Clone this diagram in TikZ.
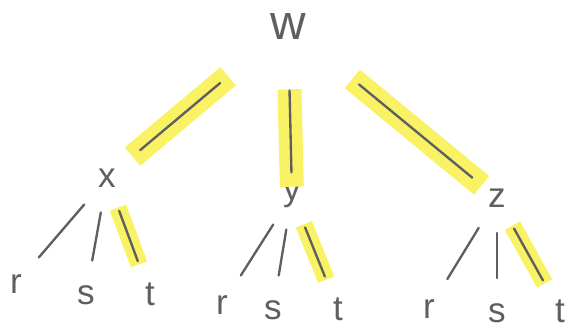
\documentclass[tikz,border=0pt]{standalone}
\usepackage{fontspec}
\setmainfont{Liberation Sans}
\usetikzlibrary{positioning}
\definecolor{pencil}{RGB}{95,95,95}
\definecolor{hiyellow}{RGB}{248,242,100}

\begin{document}
\begin{tikzpicture}[
    x=0.03cm, y=-0.03cm,
    letter/.style={text=pencil, font=\fontsize{30}{30}\selectfont, inner sep=0pt},
    rootletter/.style={letter, font=\fontsize{42}{42}\selectfont},
    branch/.style={draw=pencil, line width=2pt, line cap=round},
    leafbranch/.style={branch, shorten <=1.05cm, shorten >=1.05cm},
    hilite/.style={draw=hiyellow, line width=0.72cm},
    leafhilite/.style={draw=hiyellow, line width=0.52cm, xshift=0.12cm,
        shorten <=0.95cm, shorten >=0.95cm}
]
    \useasboundingbox (0,0) rectangle (583,331);

    \node[rootletter] (w) at (288,26) {w};

    \node[letter] (x) at (107,178) {x};
    \node[letter] (y) at (292,195) {y};
    \node[letter] (z) at (497,198) {z};

    \node[letter] (xr) at (16,284) {r};
    \node[letter] (xs) at (86,295) {s};
    \node[letter] (xt) at (150,294) {t};

    \node[letter] (yr) at (222,305) {r};
    \node[letter] (ys) at (273,310) {s};
    \node[letter] (yt) at (338,309) {t};

    \node[letter] (zr) at (429,309) {r};
    \node[letter] (zs) at (497,313) {s};
    \node[letter] (zt) at (560,311) {t};

    \draw[hilite, shorten <=2.35cm, shorten >=1.0cm] (w.center) -- (x.center);
    \draw[hilite, shorten <=1.9cm, shorten >=0.25cm] (w.center) -- (y.center);
    \draw[hilite, shorten <=2.5cm, shorten >=0.6cm] (w.center) -- (z.center);
    \draw[leafhilite] (x.center) -- (xt.center);
    \draw[leafhilite] (y.center) -- (yt.center);
    \draw[leafhilite] (z.center) -- (zt.center);

    \draw[branch, shorten <=2.66cm, shorten >=1.3cm] (w.center) -- (x.center);
    \draw[branch, shorten <=1.94cm, shorten >=0.68cm] (w.center) -- (y.center);
    \draw[branch, shorten <=2.76cm, shorten >=0.96cm] (w.center) -- (z.center);

    \draw[leafbranch] (x.center) -- (xr.center);
    \draw[leafbranch] (x.center) -- (xs.center);
    \draw[leafbranch] (x.center) -- (xt.center);

    \draw[leafbranch] (y.center) -- (yr.center);
    \draw[leafbranch] (y.center) -- (ys.center);
    \draw[leafbranch] (y.center) -- (yt.center);

    \draw[leafbranch] (z.center) -- (zr.center);
    \draw[leafbranch] (z.center) -- (zs.center);
    \draw[leafbranch] (z.center) -- (zt.center);
\end{tikzpicture}
\end{document}
